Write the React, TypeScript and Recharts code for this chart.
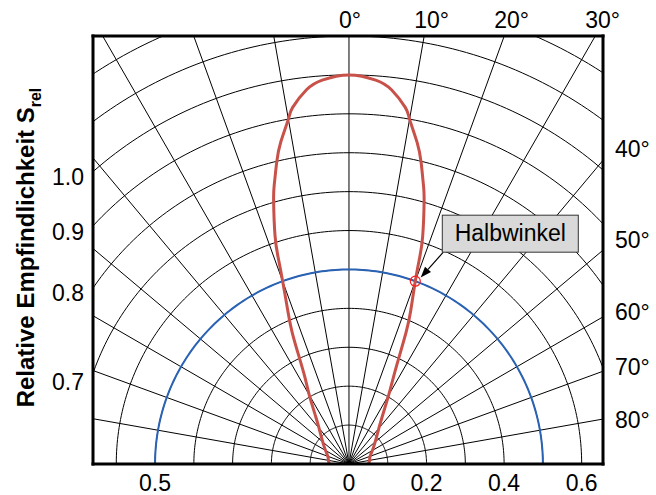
import React from "react";
import { ComposedChart, Line, XAxis, YAxis, ReferenceDot } from "recharts";

// relative sensitivity S_rel vs. angular displacement (deg)
const angles = [
  -90, -85, -80, -70, -55, -40, -35, -30, -27, -25, -23.5, -22, -20, -19, -18, -16, -15, -13.5, -12, -10, -9, -6.5, -4,
  0,
  4, 6.5, 9, 10, 12, 13.5, 15, 16, 18, 19, 20, 22, 23.5, 25, 27, 30, 35, 40, 55, 70, 80, 85, 90,
];
const sensitivity = [
  0.05, 0.052, 0.054, 0.058, 0.078, 0.12, 0.15, 0.205, 0.25, 0.305, 0.365, 0.418, 0.5, 0.56, 0.617, 0.705, 0.744, 0.798, 0.846, 0.9, 0.928, 0.968, 0.989,
  1.0,
  0.989, 0.968, 0.928, 0.9, 0.845, 0.797, 0.742, 0.703, 0.615, 0.558, 0.5, 0.425, 0.37, 0.31, 0.255, 0.205, 0.15, 0.12, 0.078, 0.058, 0.054, 0.052, 0.05,
];

const halfAngle = 20;
const halfValue = 0.5;

const gridRadii = [0.1, 0.2, 0.3, 0.4, 0.5, 0.6, 0.7, 0.8, 0.9, 1.0, 1.1, 1.2];
const rayAngles = [-80, -70, -60, -50, -40, -30, -20, -10, 0, 10, 20, 30, 40, 50, 60, 70, 80];

const bottomTicks = [-0.5, 0, 0.2, 0.4, 0.6];
const leftLabels = ["1.0", "0.9", "0.8", "0.7"];
const leftRadii = [1.0, 0.9, 0.8, 0.7];
const leftOffsets = [5.5, 6.3, 5.4, 8.9];
const topAngles = [0, 10, 20, 30];
const rightAngles = [40, 50, 60, 70, 80];
const rightOffsets = [-11, -10.5, -5.3, -4.5, 1.2];

const X_MIN = -0.66;
const X_MAX = 0.655;
const Y_MAX = 1.1;

const FONT = "'Liberation Sans', Arial, Helvetica, sans-serif";
const rad = (d: number) => (d * Math.PI) / 180;
const polar = (deg: number, r: number) => ({ x: r * Math.sin(rad(deg)), y: r * Math.cos(rad(deg)) });

const curve = angles.map((a, i) => polar(a, sensitivity[i]));
const arc = (r: number) => {
  const pts = [];
  for (let a = -90; a <= 90; a += 1) pts.push(polar(a, r));
  return pts;
};
const rays = rayAngles.map((a) => [polar(a, 0), polar(a, 1.6)]);
const halfPoint = polar(halfAngle, halfValue);

const leftTickValues = leftRadii.map((r) => Math.sqrt(r * r - X_MIN * X_MIN));
const rightTickValues = rightAngles.map((a) => X_MAX / Math.tan(rad(a)));

const textStyle = { fontFamily: FONT, fontSize: 23, fill: "#000" };

function BottomTick({ x, y, payload }: any) {
  return (
    <text x={x} y={y + 27} textAnchor="middle" {...textStyle}>
      {String(Math.abs(payload.value))}
    </text>
  );
}

function LeftTick({ x, y, index }: any) {
  return (
    <text x={x - 9} y={y + leftOffsets[index] + 8} textAnchor="end" {...textStyle}>
      {leftLabels[index]}
    </text>
  );
}

function RightTick({ x, y, index }: any) {
  return (
    <text x={x + 12} y={y + rightOffsets[index] + 8} textAnchor="start" {...textStyle}>
      {`${rightAngles[index]}°`}
    </text>
  );
}

// angle label sitting above the point where a ray leaves the frame at the top
const topLabel = (deg: number) => ({ cx, cy }: any) => (
  <text x={cx - 10} y={cy - 8} textAnchor="start" {...textStyle}>
    {`${deg}°`}
  </text>
);

function YTitle({ viewBox }: any) {
  const cx = viewBox.x + 0.5;
  const cy = viewBox.y + viewBox.height / 2 - 2.5;
  return (
    <text
      x={cx}
      y={cy}
      transform={`rotate(-90, ${cx}, ${cy})`}
      textAnchor="middle"
      fontFamily={FONT}
      fontWeight="bold"
      fontSize={24}
      fill="#000"
    >
      Relative Empfindlichkeit S
      <tspan fontSize={16} dy={7}>
        rel
      </tspan>
    </text>
  );
}

// circle marker at the half-angle point plus the labelled call-out
function HalfAngleNote({ cx, cy }: any) {
  const tail = { x: cx + 28, y: cy - 29 };
  const tip = { x: cx + 5.4, y: cy - 3.6 };
  const dx = tip.x - tail.x;
  const dy = tip.y - tail.y;
  const len = Math.hypot(dx, dy);
  const ux = dx / len;
  const uy = dy / len;
  const bx = tip.x - ux * 11;
  const by = tip.y - uy * 11;
  const head = `${tip.x},${tip.y} ${bx - uy * 4},${by + ux * 4} ${bx + uy * 4},${by - ux * 4}`;
  return (
    <g>
      <circle cx={cx} cy={cy} r={5} fill="none" stroke="#ff1a1a" strokeWidth={1.2} />
      <line x1={tail.x} y1={tail.y} x2={bx} y2={by} stroke="#000" strokeWidth={1.2} />
      <polygon points={head} fill="#000" />
      <rect x={cx + 27} y={cy - 66} width={136} height={37} fill="#d9d9d9" stroke="#333" strokeWidth={1} />
      <text x={cx + 95} y={cy - 40} textAnchor="middle" fontFamily={FONT} fontSize={23} fill="#000">
        Halbwinkel
      </text>
    </g>
  );
}

const frame = { stroke: "#000", strokeWidth: 3, strokeLinecap: "square" as const };

export default function App() {
  return (
    <div style={{ position: "absolute", left: 0, top: 0, width: 656, height: 495, background: "#fff" }}>
      <ComposedChart width={656} height={495} margin={{ top: 0, right: 0, bottom: 0, left: 33 }}>
        <XAxis
          xAxisId={0}
          type="number"
          dataKey="x"
          domain={[X_MIN, X_MAX]}
          allowDataOverflow
          ticks={bottomTicks}
          interval={0}
          height={31}
          tickLine={false}
          tickSize={0}
          tickMargin={0}
          axisLine={frame}
          tick={<BottomTick />}
        />
        <XAxis
          xAxisId="top"
          orientation="top"
          type="number"
          domain={[X_MIN, X_MAX]}
          allowDataOverflow
          height={36}
          tickLine={false}
          tick={false}
          axisLine={frame}
        />
        <YAxis
          yAxisId={0}
          type="number"
          domain={[0, Y_MAX]}
          allowDataOverflow
          ticks={leftTickValues}
          interval={0}
          width={60}
          tickLine={false}
          tickSize={0}
          tickMargin={0}
          axisLine={frame}
          tick={<LeftTick />}
          label={{ content: (p: any) => <YTitle viewBox={p.viewBox} /> }}
        />
        <YAxis
          yAxisId="right"
          orientation="right"
          type="number"
          domain={[0, Y_MAX]}
          allowDataOverflow
          ticks={rightTickValues}
          interval={0}
          width={53}
          tickLine={false}
          tickSize={0}
          tickMargin={0}
          axisLine={frame}
          tick={<RightTick />}
        />

        {gridRadii.map((r) => (
          <Line
            key={`c${r}`}
            data={arc(r)}
            dataKey="y"
            type="linear"
            stroke="#000"
            strokeWidth={1}
            dot={false}
            activeDot={false}
            isAnimationActive={false}
          />
        ))}
        {rays.map((pts, i) => (
          <Line
            key={`r${i}`}
            data={pts}
            dataKey="y"
            type="linear"
            stroke="#000"
            strokeWidth={1}
            dot={false}
            activeDot={false}
            isAnimationActive={false}
          />
        ))}
        <Line
          data={arc(halfValue)}
          dataKey="y"
          type="linear"
          stroke="#2b63b4"
          strokeWidth={2}
          dot={false}
          activeDot={false}
          isAnimationActive={false}
        />
        <Line
          data={curve}
          dataKey="y"
          type="natural"
          stroke="#c8514a"
          strokeWidth={3}
          dot={false}
          activeDot={false}
          isAnimationActive={false}
        />
        {topAngles.map((a) => (
          <ReferenceDot
            key={`t${a}`}
            x={Y_MAX * Math.tan(rad(a))}
            y={Y_MAX}
            ifOverflow="visible"
            shape={topLabel(a)}
          />
        ))}
        <ReferenceDot x={halfPoint.x} y={halfPoint.y} r={5} shape={HalfAngleNote} />
      </ComposedChart>
    </div>
  );
}
